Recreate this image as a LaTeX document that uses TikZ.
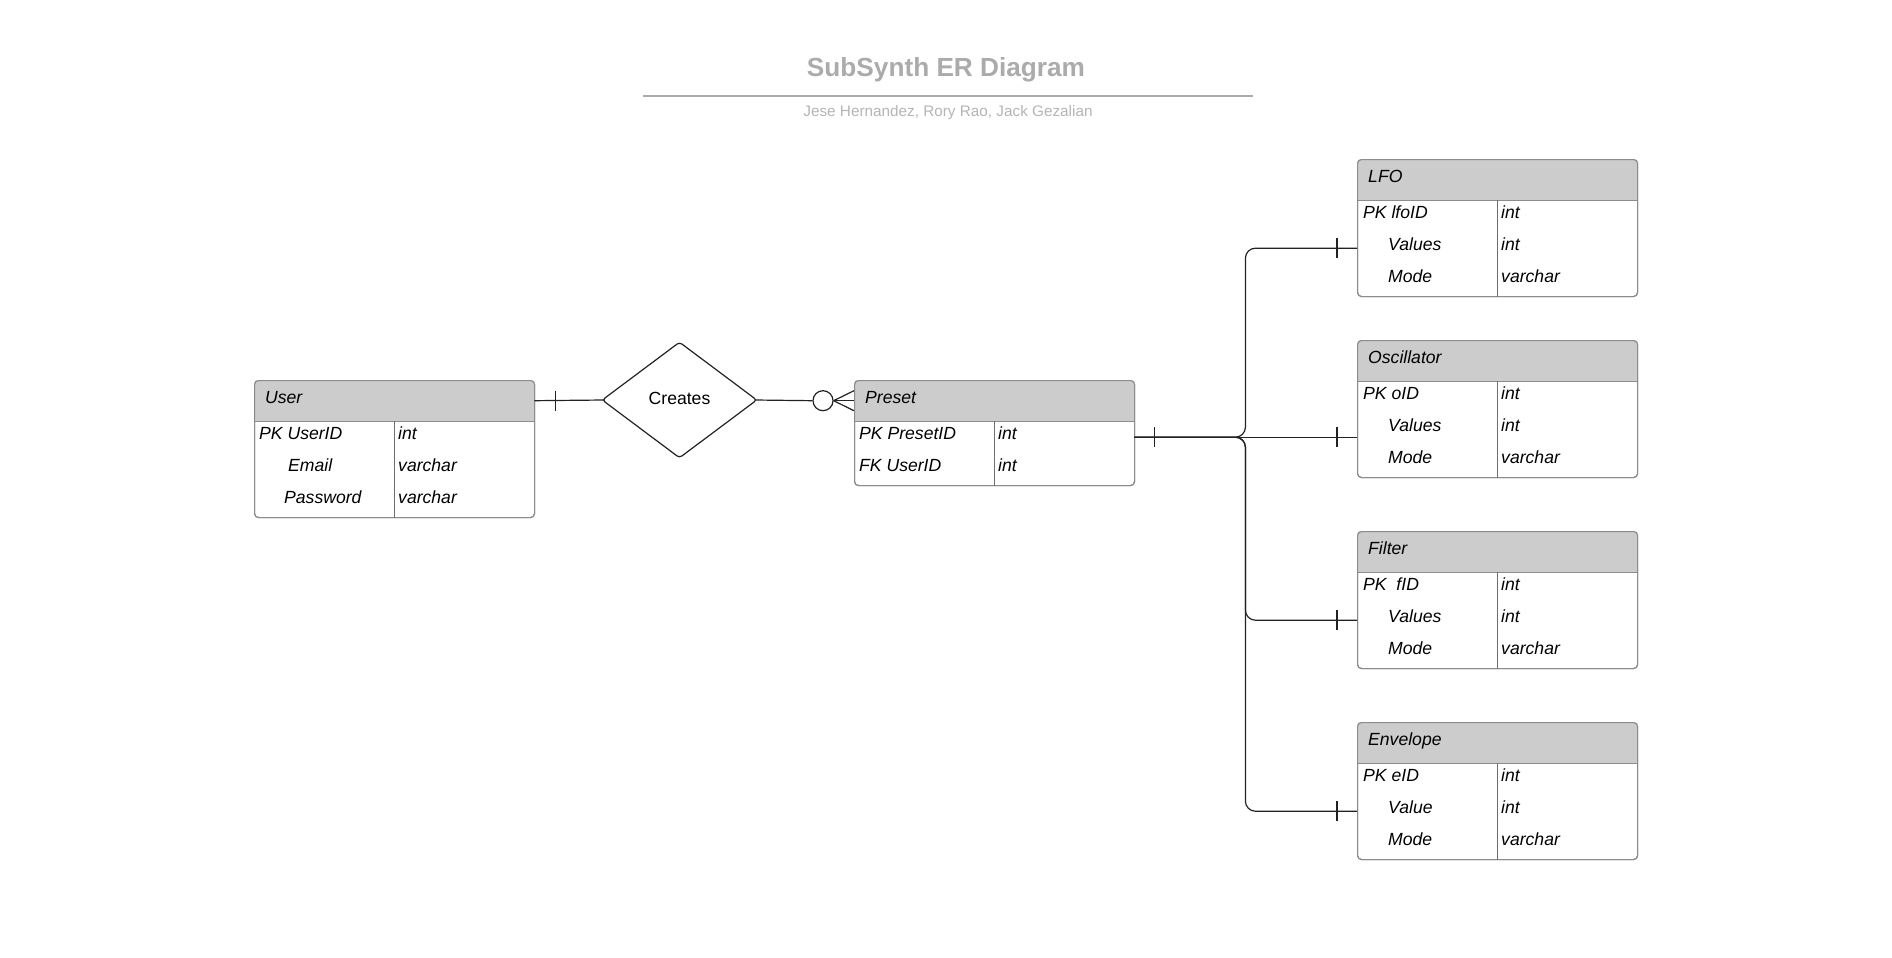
\documentclass[tikz,border=0pt]{standalone}
\usepackage{fontspec}
\setmainfont{Liberation Sans}
\usetikzlibrary{shapes.geometric}
\definecolor{bordc}{HTML}{8C8C8C}
\definecolor{hdrc}{HTML}{CCCCCC}
\definecolor{titlec}{HTML}{ABABAB}
\definecolor{subc}{HTML}{B5B5B5}
\definecolor{divc}{HTML}{6E6E6E}
\definecolor{linec}{HTML}{222222}
\tikzset{
  tabbox/.style={draw=bordc, line width=1.1pt, rounded corners=4pt, minimum width=280pt, inner sep=0pt},
  hdrnode/.style={minimum width=280pt, minimum height=41pt, inner sep=0pt},
  rownode/.style={minimum width=280pt, minimum height=32pt, inner sep=0pt},
  ertext/.style={font=\fontsize{17.6}{20}\selectfont\itshape, inner sep=0pt, text height=12.6pt, text depth=0pt},
  conn/.style={draw=linec, line width=1.2pt},
}
\newcommand{\erbox}[5]{%
  \node[tabbox, minimum height={41+32*#4}, anchor=north west] (#1) at (#2,#3) {};
  \begin{scope}
    \clip[rounded corners=4pt] (#1.north west) rectangle (#1.south east);
    \fill[hdrc] (#1.north west) rectangle ([yshift=-41pt]#1.north east);
  \end{scope}
  \node[tabbox, minimum height={41+32*#4}, anchor=north west] at (#2,#3) {};
  \node[hdrnode, anchor=north west] (#1-h) at (#2,#3) {};
  \node[ertext, anchor=west] (#1-t) at (#2+11, #3+17) {#5};
  \draw[bordc, line width=1.1pt] (#1-h.south west) -- (#1-h.south east);
  \draw[divc, line width=1pt] ([xshift=140pt]#1-h.south west) -- ([xshift=140pt]#1.south west);
}
\newcommand{\errow}[7]{%
  \node[rownode, anchor=north west] (#1-#2) at (#3, #4+41+32*#2-32) {};
  \node[ertext, anchor=west] (#1-#2f) at (#3+#5, #4+41+32*#2-19.4) {#6};
  \node[ertext, anchor=west] (#1-#2t) at (#3+144, #4+41+32*#2-19.4) {#7};
}
\newcommand{\tickat}[2]{% node anchor, xshift
  \draw[conn] ([xshift=#2, yshift=10pt]#1) -- ([xshift=#2, yshift=-10pt]#1);
}
\begin{document}
\begin{tikzpicture}[x=1pt, y=-1pt]
\fill[white] (0,0) rectangle (1892,958);
\useasboundingbox (0,0) rectangle (1892,958);

% title
\node[font=\fontsize{26.2}{30}\selectfont\bfseries, text=titlec, inner sep=0pt, text height=18.8pt, text depth=0pt] (title) at (946,67.2) {SubSynth ER Diagram};
\draw[titlec, line width=1.8pt] (643,96) -- (1253,96);
\node[font=\fontsize{15.3}{18}\selectfont, text=subc, inner sep=0pt, text height=11pt, text depth=0pt] (sub) at (948,111) {Jese Hernandez, Rory Rao, Jack Gezalian};

% User
\erbox{user}{254}{380}{3}{User}
\errow{user}{1}{254}{380}{5}{PK UserID}{int}
\errow{user}{2}{254}{380}{34}{Email}{varchar}
\errow{user}{3}{254}{380}{30}{Password}{varchar}

% Preset
\erbox{preset}{854}{380}{2}{Preset}
\errow{preset}{1}{854}{380}{5}{PK PresetID}{int}
\errow{preset}{2}{854}{380}{5}{FK UserID}{int}

% LFO
\erbox{lfo}{1357}{159}{3}{LFO}
\errow{lfo}{1}{1357}{159}{6}{PK lfoID}{int}
\errow{lfo}{2}{1357}{159}{31}{Values}{int}
\errow{lfo}{3}{1357}{159}{31}{Mode}{varchar}

% Oscillator
\erbox{osc}{1357}{340}{3}{Oscillator}
\errow{osc}{1}{1357}{340}{6}{PK oID}{int}
\errow{osc}{2}{1357}{340}{31}{Values}{int}
\errow{osc}{3}{1357}{340}{31}{Mode}{varchar}

% Filter
\erbox{filt}{1357}{531}{3}{Filter}
\errow{filt}{1}{1357}{531}{6}{PK\ \ fID}{int}
\errow{filt}{2}{1357}{531}{31}{Values}{int}
\errow{filt}{3}{1357}{531}{31}{Mode}{varchar}

% Envelope
\erbox{env}{1357}{722}{3}{Envelope}
\errow{env}{1}{1357}{722}{6}{PK eID}{int}
\errow{env}{2}{1357}{722}{31}{Value}{int}
\errow{env}{3}{1357}{722}{31}{Mode}{varchar}

% relationship
\node[diamond, draw=linec, line width=1.2pt, minimum width=155pt, minimum height=116pt, inner sep=0pt, rounded corners=3pt, font=\fontsize{17.6}{20}\selectfont, text height=12.6pt, text depth=4.4pt] (creates) at (679.5,400) {Creates};

% User -- Creates
\draw[conn, shorten >=-1pt] (user-h.east) -- ([xshift=2.5pt]creates.west);
\tickat{user-h.east}{21pt}

% Creates -- Preset (zero or many)
\node[circle, conn, minimum size=20pt, inner sep=0pt] (cf) at ([xshift=-31pt]preset-h.west) {};
\draw[conn] ([xshift=-2.5pt]creates.east) -- (cf.west);
\draw[conn] (cf.east) -- ([yshift=10pt]preset-h.west);
\draw[conn] (cf.east) -- (preset-h.west);
\draw[conn] (cf.east) -- ([yshift=-10pt]preset-h.west);

% Preset -- components
\coordinate (j) at ([xshift=111pt]preset-1.east);
\draw[conn] (preset-1.east) -- (preset-1.east -| osc.west);
\tickat{preset-1.east}{20pt}
\draw[conn, rounded corners=10pt] (preset-1.east) -| (j |- lfo-2.west) -- (lfo-2.west);
\draw[conn, rounded corners=10pt] (preset-1.east) -| (j |- filt-2.west) -- (filt-2.west);
\draw[conn, rounded corners=10pt] (preset-1.east) -| (j |- env-2.west) -- (env-2.west);
\tickat{lfo-2.west}{-20pt}
\tickat{preset-1.east -| osc.west}{-20pt}
\tickat{filt-2.west}{-20pt}
\tickat{env-2.west}{-20pt}
\end{tikzpicture}
\end{document}
